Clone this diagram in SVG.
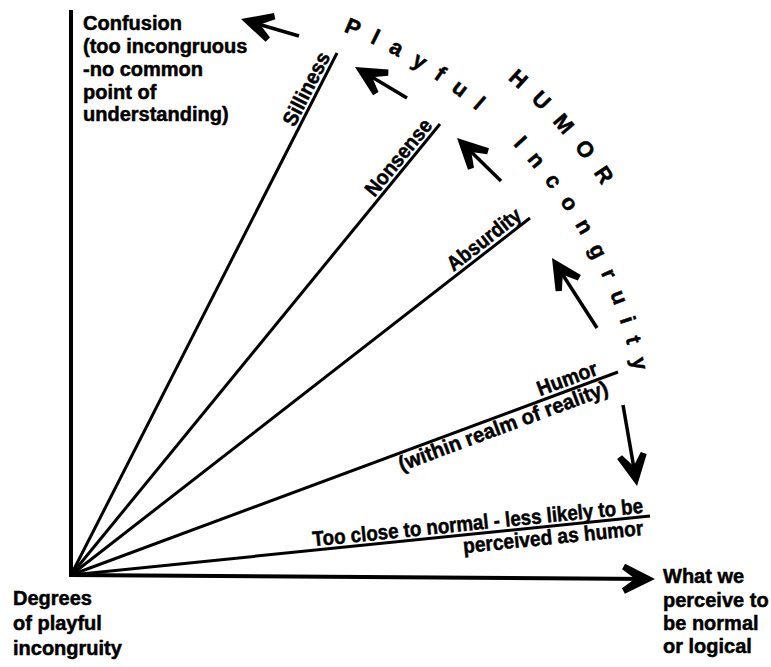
<svg xmlns="http://www.w3.org/2000/svg" width="771" height="667" viewBox="0 0 771 667">
<defs>
<style>
text { font-family: "Liberation Sans", Arial, sans-serif; font-weight: bold; fill: #000; stroke: #000; stroke-width: 0.5; }
.lbl { font-size: 20px; }
.rl { font-size: 21px; }
.arc { font-size: 22px; }
.ray { stroke: #000; stroke-width: 3; fill: none; }
.axis { stroke: #000; stroke-width: 4; fill: none; }
.arr { stroke: #000; stroke-width: 3.5; fill: none; marker-end: url(#head); }
</style>
<marker id="head" markerUnits="userSpaceOnUse" viewBox="-30 -16 36 32" markerWidth="36" markerHeight="32" refX="0" refY="0" orient="auto" overflow="visible">
<path d="M5,0 L-25,-15 L-28,-9.5 L-15,0 L-28,9.5 L-25,15 Z" fill="#000"/>
</marker>
<path id="arcPI" d="M343.2,31.4 A474,474 0 0 1 643.2,514.3"/>
<path id="arcH" d="M507.4,79.1 A518,518 0 0 1 657.8,295.8"/>
</defs>
<rect width="771" height="667" fill="#fff"/>

<g id="axes">
<line class="axis" x1="71" y1="10" x2="71" y2="577"/>
<line class="axis" x1="69" y1="575" x2="650" y2="578.9" style="marker-end:url(#head)"/>
</g>

<g id="label-confusion">
<text class="lbl" x="83" y="30">Confusion</text>
<text class="lbl" x="83" y="53">(too incongruous</text>
<text class="lbl" x="83" y="76">-no common</text>
<text class="lbl" x="83" y="98.5">point of</text>
<text class="lbl" x="83" y="121">understanding)</text>
</g>

<g id="label-degrees">
<text class="lbl" x="13" y="605">Degrees</text>
<text class="lbl" x="13" y="630">of playful</text>
<text class="lbl" x="13" y="655">incongruity</text>
</g>

<g id="label-normal">
<text class="lbl" x="663" y="583">What we</text>
<text class="lbl" x="663" y="607">perceive to</text>
<text class="lbl" x="663" y="630">be normal</text>
<text class="lbl" x="663" y="653">or logical</text>
</g>

<g id="ray-silliness">
<line class="ray" x1="71" y1="575" x2="337" y2="53"/>
<text class="rl" transform="translate(71,575) rotate(-63)" x="500" y="-4" textLength="80" lengthAdjust="spacingAndGlyphs">Silliness</text>
</g>

<g id="ray-nonsense">
<line class="ray" x1="71" y1="575" x2="440" y2="124"/>
<text class="rl" transform="translate(71,575) rotate(-50.7)" x="484" y="-4" textLength="93" lengthAdjust="spacingAndGlyphs">Nonsense</text>
</g>

<g id="ray-absurdity">
<line class="ray" x1="71" y1="575" x2="530" y2="218"/>
<text class="rl" transform="translate(71,575) rotate(-37.9)" x="488" y="-4" textLength="88" lengthAdjust="spacingAndGlyphs">Absurdity</text>
</g>

<g id="ray-humor">
<line class="ray" x1="71" y1="575" x2="618" y2="372"/>
<text class="rl" transform="translate(71,575) rotate(-20.4)" x="502" y="-4" textLength="63" lengthAdjust="spacingAndGlyphs">Humor</text>
<text class="rl" transform="translate(71,575) rotate(-20.4)" x="346" y="18" textLength="222" lengthAdjust="spacingAndGlyphs">(within realm of reality)</text>
</g>

<g id="ray-normal">
<line class="ray" x1="71" y1="575" x2="650" y2="516"/>
<text class="rl" transform="translate(71,575) rotate(-5.8)" x="244" y="-4" textLength="332" lengthAdjust="spacingAndGlyphs">Too close to normal - less likely to be</text>
<text class="rl" transform="translate(71,575) rotate(-5.8)" x="393" y="18" textLength="181" lengthAdjust="spacingAndGlyphs">perceived as humor</text>
</g>

<g id="arc-titles">
<text class="arc" letter-spacing="14" word-spacing="15"><textPath href="#arcPI">Playful Incongruity</textPath></text>
<text class="arc" letter-spacing="15"><textPath href="#arcH">HUMOR</textPath></text>
</g>

<g id="connectors">
<line class="arr" x1="299" y1="36" x2="245.8" y2="20.4"/>
<line class="arr" x1="407" y1="98" x2="359.3" y2="69.6"/>
<line class="arr" x1="501" y1="181" x2="460.6" y2="141.5"/>
<line class="arr" x1="597" y1="328" x2="554.7" y2="262.2"/>
<line class="arr" x1="623" y1="405" x2="636.2" y2="481.1"/>
</g>
</svg>
